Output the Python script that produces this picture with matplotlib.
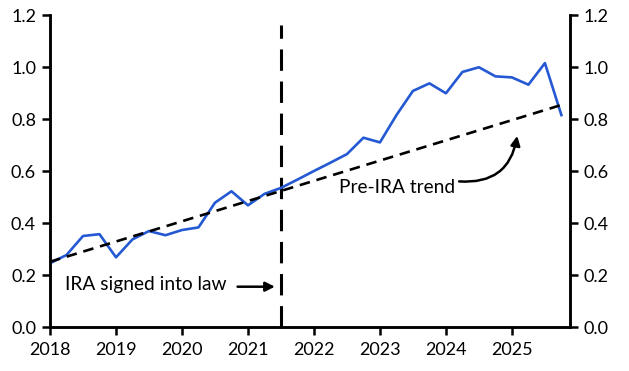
import matplotlib
matplotlib.use("Agg")
import matplotlib.pyplot as plt
import numpy as np

plt.rcParams['font.family'] = ['Lato', 'DejaVu Sans']

dates = [2018.0, 2018.25, 2018.5, 2018.75, 2019.0, 2019.25, 2019.5, 2019.75,
         2020.0, 2020.25, 2020.5, 2020.75, 2021.0, 2021.25, 2021.5, 2021.75,
         2022.0, 2022.25, 2022.5, 2022.75, 2023.0, 2023.25, 2023.5, 2023.75,
         2024.0, 2024.25, 2024.5, 2024.75, 2025.0, 2025.25, 2025.5, 2025.75]
values = [0.245, 0.277, 0.350, 0.357, 0.268, 0.337, 0.369, 0.353,
          0.373, 0.383, 0.478, 0.522, 0.468, 0.512, 0.535, 0.567,
          0.600, 0.632, 0.665, 0.728, 0.710, 0.815, 0.908, 0.937,
          0.899, 0.981, 0.999, 0.964, 0.960, 0.932, 1.015, 0.815]
trend_dates = [2018.0, 2025.75]
trend_values = [0.251, 0.854]
ira_date = 2021.5
yticks = [0.0, 0.2, 0.4, 0.6, 0.8, 1.0, 1.2]
xticks = [2018, 2019, 2020, 2021, 2022, 2023, 2024, 2025]

fig = plt.figure(figsize=(6.29, 3.71), dpi=100)
ax = fig.add_axes([50/629, 44/371, 520/629, 312/371])

ax.plot(dates, values, color='#2459d3', lw=1.9, zorder=3)
ax.plot(trend_dates, trend_values, color='black', lw=1.9, dashes=(4, 2.6), zorder=4)
ax.plot([ira_date, ira_date], [0, 1.16], color='black', lw=2.2, dashes=(7, 3.5), zorder=2)

ax.set_xlim(2018, 2025.88)
ax.set_ylim(0, 1.2)
ax.set_xticks(xticks)
ax.set_xticklabels([str(x) for x in xticks])
ax.set_yticks(yticks)
ax.set_yticklabels([f"{v:.1f}" for v in yticks])

ax2 = ax.twinx()
ax2.set_ylim(0, 1.2)
ax2.set_yticks(yticks)
ax2.set_yticklabels([f"{v:.1f}" for v in yticks])

for a in (ax, ax2):
    a.spines['top'].set_visible(False)
    for s in ('left', 'right', 'bottom'):
        a.spines[s].set_linewidth(1.8)
    a.tick_params(width=1.8, length=6, labelsize=13, colors='black', pad=4)
ax.tick_params(axis='x', pad=5)

ax.text(2018.22, 0.165, "IRA signed into law", fontsize=13.8, va='center', ha='left')
ax.annotate("", xy=(2021.45, 0.155), xytext=(2020.8, 0.155),
            arrowprops=dict(arrowstyle='-|>', color='black', lw=1.8, mutation_scale=14))
ax.text(2022.38, 0.535, "Pre-IRA trend", fontsize=13.8, va='center', ha='left')
ax.annotate("", xy=(2025.08, 0.735), xytext=(2024.2, 0.56),
            arrowprops=dict(arrowstyle='-|>', color='black', lw=1.8, mutation_scale=14,
                            shrinkA=0, shrinkB=0,
                            connectionstyle='arc3,rad=0.45'))

fig.savefig("out.png", dpi=100)
